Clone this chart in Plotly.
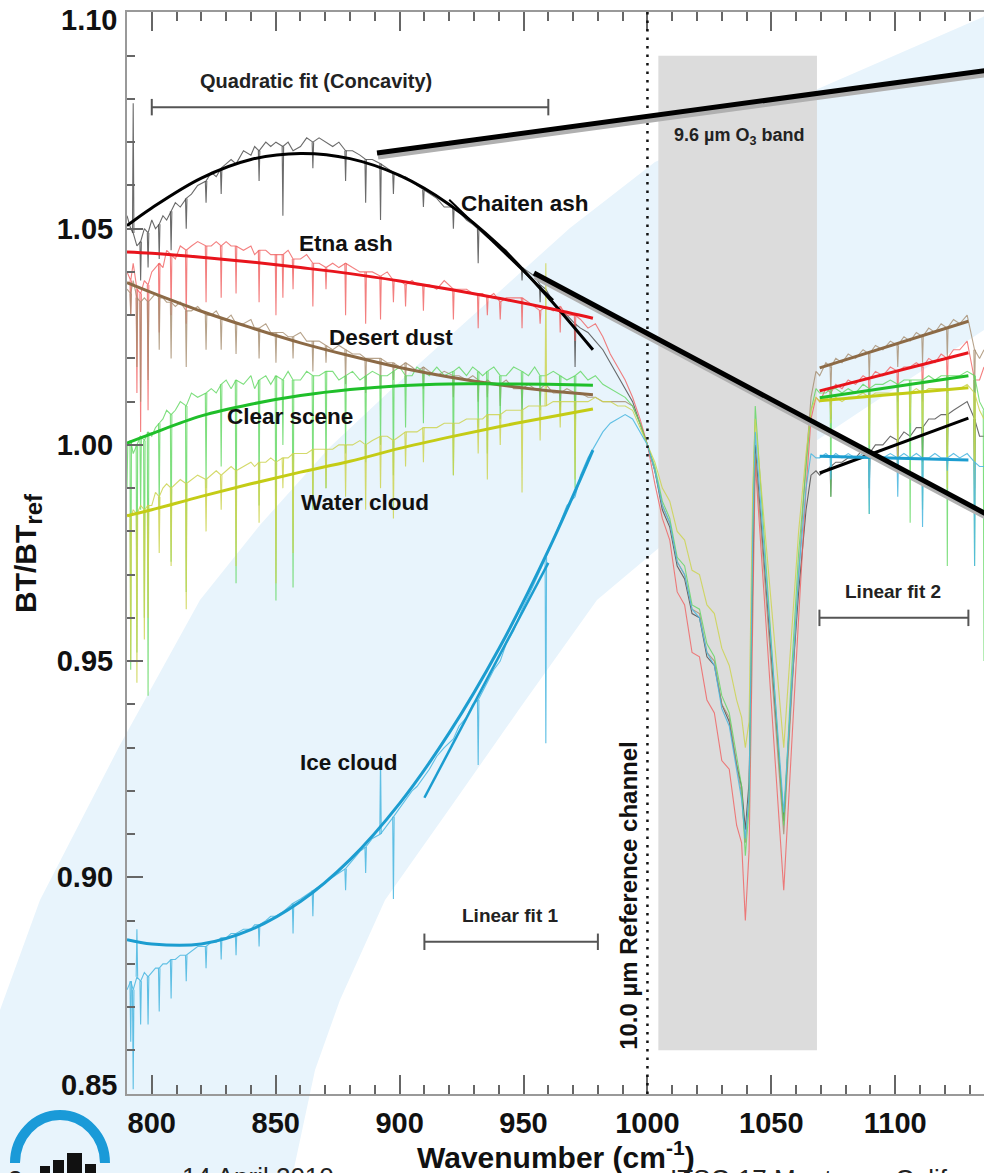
import plotly.graph_objects as go

# ---------------- data ----------------
WN_LEFT = [790.0, 791.5, 792.5, 794.0, 795.5, 797.0, 798.5, 800.0, 801.5, 803.0,
           804.5, 806.0, 807.8, 809.5, 811.5, 813.9, 816.0, 818.5, 821.9, 824.0,
           826.0, 828.0, 830.0, 832.0, 834.0, 837.0, 840.0, 841.5, 843.3, 846.0,
           848.0, 850.1, 852.9, 855.0, 857.0, 860.0, 862.5, 865.0, 867.5, 870.3,
           873.0, 875.5, 878.2, 881.0, 884.0, 886.3, 889.0, 892.3, 895.0, 897.5,
           900.0, 902.4, 905.0, 907.0, 909.6, 912.0, 915.0, 918.0, 921.7, 924.0,
           927.0, 929.5, 931.7, 933.5, 935.4, 938.0, 940.6, 943.0, 946.0, 949.4,
           952.0, 954.5, 956.7, 959.0, 962.0, 964.8, 967.5, 970.8, 973.0, 976.0,
           979.0, 982.0, 985.0, 988.0, 991.0, 994.0, 997.0, 1000.0]
WN_O3 = [1003, 1006, 1009, 1012, 1015, 1018, 1021, 1024, 1027, 1030, 1033, 1036,
         1038, 1039.5, 1041, 1042.5, 1043.5, 1055, 1058, 1061, 1064, 1066, 1068]
WN_RIGHT = [1069.5, 1072, 1074, 1076, 1078.5, 1081, 1084, 1087, 1089.5, 1092, 1095,
            1098, 1101, 1103.5, 1106, 1108.5, 1111, 1113.5, 1116, 1118.5, 1121,
            1123.5, 1126, 1129, 1132, 1134, 1135.8]

# spectra: continuum level at each wavenumber
CHAITEN_LEFT = [1.053, 1.050, 1.049, 1.046, 1.047, 1.050, 1.049, 1.052, 1.050, 1.051,
                1.053, 1.052, 1.054, 1.056, 1.055, 1.057, 1.058, 1.060, 1.061, 1.063,
                1.062, 1.064, 1.065, 1.066, 1.065, 1.068, 1.067, 1.069, 1.068, 1.070,
                1.069, 1.070, 1.069, 1.070, 1.068, 1.069, 1.071, 1.070, 1.071, 1.070,
                1.069, 1.070, 1.068, 1.068, 1.067, 1.066, 1.066, 1.065, 1.064, 1.063,
                1.062, 1.062, 1.061, 1.060, 1.059, 1.058, 1.057, 1.055, 1.055, 1.054,
                1.052, 1.051, 1.050, 1.049, 1.048, 1.047, 1.046, 1.045, 1.043, 1.041,
                1.040, 1.039, 1.037, 1.036, 1.033, 1.031, 1.030, 1.028, 1.027, 1.026,
                1.024, 1.022, 1.019, 1.016, 1.013, 1.010, 1.005, 1.000]
ETNA_LEFT = [1.040, 1.038, 1.042, 1.036, 1.035, 1.038, 1.037, 1.040, 1.041, 1.042,
             1.041, 1.045, 1.044, 1.043, 1.046, 1.045, 1.046, 1.047, 1.046, 1.046,
             1.047, 1.046, 1.047, 1.046, 1.046, 1.045, 1.046, 1.044, 1.045, 1.045,
             1.044, 1.044, 1.044, 1.045, 1.043, 1.043, 1.044, 1.042, 1.042, 1.041,
             1.042, 1.041, 1.042, 1.041, 1.040, 1.040, 1.040, 1.039, 1.040, 1.038,
             1.038, 1.037, 1.038, 1.037, 1.037, 1.037, 1.036, 1.038, 1.036, 1.036,
             1.036, 1.035, 1.035, 1.035, 1.034, 1.035, 1.033, 1.034, 1.034, 1.034,
             1.033, 1.032, 1.031, 1.032, 1.031, 1.032, 1.030, 1.030, 1.029, 1.027,
             1.028, 1.025, 1.021, 1.018, 1.015, 1.011, 1.006, 1.000]
DUST_LEFT = [1.036, 1.035, 1.038, 1.034, 1.033, 1.034, 1.033, 1.034, 1.035, 1.034,
             1.034, 1.033, 1.033, 1.032, 1.033, 1.031, 1.031, 1.032, 1.030, 1.030,
             1.031, 1.029, 1.029, 1.030, 1.028, 1.028, 1.029, 1.027, 1.027, 1.028,
             1.026, 1.026, 1.026, 1.025, 1.025, 1.026, 1.024, 1.024, 1.024, 1.023,
             1.022, 1.023, 1.022, 1.021, 1.021, 1.020, 1.020, 1.020, 1.019, 1.019,
             1.018, 1.019, 1.018, 1.017, 1.018, 1.017, 1.016, 1.017, 1.016, 1.016,
             1.015, 1.016, 1.015, 1.014, 1.015, 1.014, 1.014, 1.015, 1.013, 1.013,
             1.014, 1.013, 1.013, 1.014, 1.012, 1.012, 1.013, 1.012, 1.012, 1.011,
             1.011, 1.010, 1.010, 1.010, 1.010, 1.009, 1.005, 1.000]
CLEAR_LEFT = [1.000, 1.001, 0.998, 1.000, 1.002, 1.001, 1.003, 1.002, 1.004, 1.005,
              1.006, 1.008, 1.007, 1.008, 1.010, 1.009, 1.012, 1.011, 1.012, 1.013,
              1.012, 1.014, 1.015, 1.013, 1.015, 1.014, 1.016, 1.013, 1.015, 1.016,
              1.014, 1.016, 1.015, 1.017, 1.015, 1.015, 1.017, 1.016, 1.016, 1.017,
              1.017, 1.015, 1.016, 1.017, 1.015, 1.016, 1.017, 1.016, 1.016, 1.017,
              1.018, 1.016, 1.016, 1.018, 1.017, 1.016, 1.018, 1.016, 1.017, 1.018,
              1.016, 1.018, 1.017, 1.016, 1.017, 1.018, 1.016, 1.016, 1.018, 1.017,
              1.016, 1.018, 1.016, 1.016, 1.017, 1.016, 1.015, 1.016, 1.017, 1.015,
              1.016, 1.014, 1.013, 1.012, 1.011, 1.009, 1.005, 1.000]
WATER_LEFT = [0.984, 0.983, 0.985, 0.984, 0.986, 0.985, 0.986, 0.986, 0.989, 0.988,
              0.990, 0.991, 0.990, 0.991, 0.992, 0.991, 0.992, 0.993, 0.992, 0.993,
              0.994, 0.993, 0.994, 0.995, 0.994, 0.995, 0.996, 0.995, 0.996, 0.996,
              0.997, 0.996, 0.997, 0.997, 0.998, 0.998, 0.998, 0.999, 0.999, 0.999,
              0.999, 1.000, 1.000, 1.000, 1.001, 1.000, 1.001, 1.002, 1.002, 1.001,
              1.002, 1.003, 1.003, 1.003, 1.004, 1.004, 1.004, 1.005, 1.005, 1.005,
              1.006, 1.006, 1.006, 1.006, 1.007, 1.007, 1.007, 1.008, 1.008, 1.008,
              1.009, 1.009, 1.009, 1.009, 1.010, 1.010, 1.010, 1.010, 1.010, 1.010,
              1.011, 1.010, 1.010, 1.009, 1.009, 1.008, 1.004, 1.000]
ICE_LEFT = [0.874, 0.876, 0.874, 0.877, 0.876, 0.878, 0.877, 0.878, 0.879, 0.879,
            0.880, 0.880, 0.881, 0.881, 0.882, 0.882, 0.883, 0.884, 0.884, 0.885,
            0.885, 0.886, 0.886, 0.887, 0.887, 0.888, 0.888, 0.889, 0.889, 0.890,
            0.891, 0.891, 0.892, 0.893, 0.894, 0.895, 0.896, 0.897, 0.898, 0.899,
            0.900, 0.901, 0.902, 0.904, 0.906, 0.907, 0.909, 0.910, 0.912, 0.914,
            0.916, 0.918, 0.920, 0.921, 0.923, 0.925, 0.928, 0.930, 0.932, 0.935,
            0.937, 0.940, 0.941, 0.943, 0.945, 0.948, 0.950, 0.954, 0.957, 0.962,
            0.965, 0.968, 0.971, 0.974, 0.978, 0.982, 0.986, 0.988, 0.993, 0.997,
            1.000, 1.003, 1.005, 1.006, 1.007, 1.006, 1.003, 1.000]

CHAITEN_O3 = [0.994, 0.985, 0.981, 0.972, 0.969, 0.961, 0.960, 0.951, 0.949, 0.940, 0.936, 0.926,
              0.921, 0.911, 0.922, 0.975, 1.000, 0.913, 0.942, 0.966, 0.985, 0.993, 0.994]
ETNA_O3 = [0.991, 0.983, 0.978, 0.966, 0.963, 0.952, 0.951, 0.941, 0.938, 0.927, 0.925, 0.912,
           0.908, 0.890, 0.906, 0.960, 0.996, 0.897, 0.930, 0.960, 0.990, 1.006, 1.011]
DUST_O3 = [0.994, 0.986, 0.982, 0.973, 0.970, 0.962, 0.961, 0.952, 0.950, 0.940, 0.937, 0.926,
           0.919, 0.908, 0.919, 0.975, 0.998, 0.910, 0.940, 0.970, 0.996, 1.011, 1.017]
CLEAR_O3 = [0.995, 0.987, 0.983, 0.974, 0.972, 0.963, 0.962, 0.954, 0.951, 0.942, 0.938, 0.928,
            0.921, 0.905, 0.916, 0.985, 1.009, 0.912, 0.946, 0.975, 0.996, 1.008, 1.013]
WATER_O3 = [0.996, 0.990, 0.987, 0.980, 0.978, 0.971, 0.970, 0.963, 0.961, 0.953, 0.949, 0.941,
            0.937, 0.930, 0.936, 0.990, 1.006, 0.930, 0.956, 0.980, 0.998, 1.008, 1.011]
ICE_O3 = [0.994, 0.986, 0.982, 0.973, 0.970, 0.962, 0.960, 0.952, 0.949, 0.939, 0.935, 0.925,
          0.918, 0.909, 0.919, 0.980, 1.003, 0.915, 0.943, 0.970, 0.990, 0.998, 0.997]

CHAITEN_RIGHT = [0.993, 0.994, 0.995, 0.996, 0.996, 0.997, 0.997, 0.999, 0.998, 1.000, 1.000, 1.002,
                 1.001, 1.003, 1.002, 1.004, 1.004, 1.006, 1.006, 1.007, 1.007, 1.008, 1.009, 1.010,
                 1.006, 1.002, 1.002]
ETNA_RIGHT = [1.010, 1.013, 1.012, 1.014, 1.013, 1.015, 1.014, 1.016, 1.015, 1.017, 1.016, 1.018,
              1.017, 1.018, 1.018, 1.019, 1.018, 1.020, 1.019, 1.021, 1.020, 1.022, 1.022, 1.024,
              1.015, 1.015, 1.018]
DUST_RIGHT = [1.016, 1.019, 1.018, 1.020, 1.019, 1.021, 1.020, 1.022, 1.021, 1.023, 1.022, 1.024,
              1.023, 1.025, 1.024, 1.026, 1.025, 1.027, 1.026, 1.028, 1.027, 1.029, 1.028, 1.030,
              1.022, 1.020, 1.022]
CLEAR_RIGHT = [1.012, 1.012, 1.013, 1.013, 1.012, 1.013, 1.012, 1.014, 1.013, 1.014, 1.014, 1.015,
               1.014, 1.015, 1.015, 1.015, 1.015, 1.016, 1.015, 1.016, 1.016, 1.016, 1.016, 1.017,
               1.016, 1.010, 1.008]
WATER_RIGHT = [1.010, 1.011, 1.010, 1.011, 1.010, 1.011, 1.011, 1.012, 1.011, 1.012, 1.012, 1.012,
               1.012, 1.012, 1.012, 1.013, 1.012, 1.013, 1.013, 1.013, 1.013, 1.013, 1.013, 1.014,
               1.012, 1.008, 1.006]
ICE_RIGHT = [0.997, 0.998, 0.997, 0.998, 0.997, 0.998, 0.997, 0.998, 0.997, 0.998, 0.997, 0.998,
             0.997, 0.998, 0.997, 0.998, 0.997, 0.997, 0.998, 0.997, 0.997, 0.998, 0.997, 0.998,
             0.996, 0.995, 0.995]

# narrow absorption lines / spikes: (wavenumber, extreme value)
CHAITEN_LINES = [(792.5, 1.079), (795.5, 1.038), (798.5, 1.041), (803.0, 1.043), (807.8, 1.045),
                 (813.9, 1.050), (821.9, 1.056), (828.0, 1.058), (843.3, 1.061), (852.9, 1.053),
                 (865.0, 1.064), (878.2, 1.061), (886.3, 1.056), (892.3, 1.052), (897.5, 1.058),
                 (909.6, 1.055), (921.7, 1.050), (931.7, 1.042), (949.4, 1.038), (956.7, 1.033),
                 (970.8, 1.018), (1074, 0.988), (1089.5, 0.990), (1101, 0.994), (1111, 0.996),
                 (1121, 0.998), (1132, 0.990)]
ETNA_LINES = [(791.5, 1.030), (794.0, 1.012), (795.5, 1.003), (798.5, 1.008), (803.0, 1.026),
              (807.8, 1.030), (813.9, 1.028), (821.9, 1.033), (828.0, 1.034), (834.0, 1.035),
              (843.3, 1.033), (850.1, 1.030), (852.9, 1.034), (857.0, 1.036), (865.0, 1.032),
              (870.3, 1.036), (878.2, 1.030), (886.3, 1.028), (892.3, 1.029), (897.5, 1.033),
              (902.4, 1.032), (909.6, 1.031), (921.7, 1.029), (931.7, 1.027), (935.4, 1.030),
              (940.6, 1.029), (949.4, 1.027), (956.7, 1.028), (964.8, 1.026), (970.8, 1.024),
              (1074, 1.006), (1089.5, 1.008), (1101, 1.010), (1111, 1.010), (1121, 1.012),
              (1132, 1.005)]
DUST_LINES = [(791.5, 1.030), (794.0, 1.018), (795.5, 1.010), (798.5, 1.015), (803.0, 1.022),
              (807.8, 1.020), (813.9, 1.018), (821.9, 1.022), (828.0, 1.022), (834.0, 1.021),
              (843.3, 1.020), (850.1, 1.019), (857.0, 1.020), (865.0, 1.017), (870.3, 1.019),
              (878.2, 1.014), (886.3, 1.012), (892.3, 1.013), (897.5, 1.015), (902.4, 1.014),
              (909.6, 1.013), (921.7, 1.011), (931.7, 1.010), (935.4, 1.011), (940.6, 1.009),
              (949.4, 1.008), (956.7, 1.009), (964.8, 1.008), (970.8, 1.006),
              (1074, 1.012), (1089.5, 1.015), (1101, 1.018), (1111, 1.019), (1121, 1.020),
              (1132, 1.012)]
CLEAR_LINES = [(790.0, 0.990), (791.5, 0.948), (794.0, 0.952), (795.5, 0.985), (797.0, 0.960),
               (798.5, 0.942), (803.0, 0.985), (807.8, 0.973), (813.9, 0.966), (821.9, 0.990),
               (828.0, 0.995), (834.0, 0.968), (843.3, 0.986), (850.1, 0.964), (852.9, 1.000),
               (857.0, 0.967), (865.0, 0.985), (870.3, 0.990), (878.2, 0.998), (886.3, 0.996),
               (892.3, 1.000), (897.5, 0.993), (902.4, 1.004), (909.6, 1.005), (921.7, 0.993),
               (931.7, 1.004), (935.4, 0.998), (940.6, 1.006), (949.4, 1.005), (956.7, 1.008),
               (964.8, 1.007), (970.8, 0.990), (1074, 0.988), (1089.5, 0.984), (1101, 1.000),
               (1106, 0.982), (1111, 0.985), (1121, 0.972), (1132, 0.972), (1135.8, 0.950)]
WATER_LINES = [(791.5, 0.950), (794.0, 0.945), (797.0, 0.955), (798.5, 0.960), (803.0, 0.975),
               (807.8, 0.972), (813.9, 0.962), (821.9, 0.980), (828.0, 0.985), (834.0, 0.972),
               (843.3, 0.982), (850.1, 0.968), (852.9, 0.990), (857.0, 0.975), (865.0, 0.986),
               (870.3, 0.990), (878.2, 0.988), (886.3, 0.985), (892.3, 0.990), (897.5, 0.983),
               (902.4, 0.995), (909.6, 0.996), (921.7, 0.993), (931.7, 0.998), (935.4, 0.992),
               (940.6, 1.000), (949.4, 0.989), (956.7, 1.001), (959.0, 1.042), (964.8, 1.004),
               (970.8, 0.992), (1074, 1.005), (1089.5, 1.000), (1101, 0.995), (1106, 1.005),
               (1111, 1.002), (1121, 0.990), (1132, 0.985)]
ICE_LINES = [(791.5, 0.862), (792.5, 0.851), (794.0, 0.888), (795.5, 0.866), (798.5, 0.866),
             (803.0, 0.869), (807.8, 0.872), (813.9, 0.876), (821.9, 0.879), (828.0, 0.881),
             (834.0, 0.882), (843.3, 0.884), (857.0, 0.887), (865.0, 0.891), (878.2, 0.897),
             (886.3, 0.901), (892.3, 0.928), (897.5, 0.895), (931.7, 0.926), (959.0, 0.931),
             (1074, 0.992), (1089.5, 0.984), (1101, 0.988), (1111, 0.981), (1121, 0.994),
             (1132, 0.972)]

# quadratic fits
FIT_X = [790, 800, 820, 840, 860, 880, 900, 920, 940, 960, 978]
CHAITEN_FIT = [1.0507, 1.0548, 1.0617, 1.0660, 1.0674, 1.0662, 1.0623, 1.0556, 1.0462, 1.0341, 1.0220]
ETNA_FIT = [1.0446, 1.0443, 1.0434, 1.0423, 1.0410, 1.0396, 1.0379, 1.0360, 1.0339, 1.0316, 1.0293]
DUST_FIT = [1.0375, 1.0352, 1.0309, 1.0271, 1.0236, 1.0206, 1.0179, 1.0157, 1.0139, 1.0125, 1.0116]
CLEAR_FIT = [1.0004, 1.0026, 1.0067, 1.0094, 1.0114, 1.0128, 1.0137, 1.0141, 1.0141, 1.0140, 1.0138]
WATER_FIT = [0.9836, 0.9850, 0.9881, 0.9910, 0.9937, 0.9962, 0.9992, 1.0018, 1.0042, 1.0064, 1.0083]
ICE_FIT = [0.8856, 0.8846, 0.8846, 0.8879, 0.8944, 0.9041, 0.9171, 0.9334, 0.9528, 0.9756, 0.9988]

# linear fit 1 (910-980 window)
ICE_LIN1_X = [910, 960]
ICE_LIN1 = [0.9184, 0.9727]
CHAITEN_LIN1_X = [920, 962]
CHAITEN_LIN1 = [1.0567, 1.0335]

# linear fit 2 (1069-1130 window)
LIN2_X = [1069.5, 1129.5]
CHAITEN_LIN2 = [0.9935, 1.0062]
ETNA_LIN2 = [1.0125, 1.0213]
DUST_LIN2 = [1.0178, 1.0286]
CLEAR_LIN2 = [1.0109, 1.0160]
WATER_LIN2 = [1.0102, 1.0132]
ICE_LIN2 = [0.9974, 0.9965]

X_TICKS = [800, 850, 900, 950, 1000, 1050, 1100]
Y_TICKS = [0.85, 0.90, 0.95, 1.00, 1.05, 1.10]
Y_TICK_TEXT = ["0.85", "0.90", "0.95", "1.00", "1.05", "1.10"]

O3_BAND = [1004.4, 1068.4, 0.860, 1.090]
REF_CHANNEL = 1000
BRACKETS = [  # (x0, x1, y, label, label_x, label_y)
    (800, 960, 1.0781, "Quadratic fit (Concavity)", 866.3, 1.0811),
    (910, 980, 0.8851, "Linear fit 1", 944.7, 0.8884),
    (1069.4, 1129.5, 0.9600, "Linear fit 2", 1099.2, 0.9632),
]
LABELS = [  # (text, x, y)
    ("Chaiten ash", 950.7, 1.0558),
    ("Etna ash", 878.5, 1.0465),
    ("Desert dust", 896.7, 1.0249),
    ("Clear scene", 855.9, 1.0066),
    ("Water cloud", 886.1, 0.9867),
    ("Ice cloud", 879.6, 0.9266),
]

# ---------------- styling ----------------
FONT = "Liberation Sans, Arial, Helvetica, sans-serif"
SERIES = [
    ("Chaiten ash", CHAITEN_LEFT, CHAITEN_O3, CHAITEN_RIGHT, CHAITEN_LINES, CHAITEN_FIT, CHAITEN_LIN2,
     "rgba(70,70,70,0.8)", "#000000"),
    ("Etna ash", ETNA_LEFT, ETNA_O3, ETNA_RIGHT, ETNA_LINES, ETNA_FIT, ETNA_LIN2,
     "rgba(240,95,95,0.8)", "#e8141c"),
    ("Desert dust", DUST_LEFT, DUST_O3, DUST_RIGHT, DUST_LINES, DUST_FIT, DUST_LIN2,
     "rgba(165,140,110,0.8)", "#8c6a46"),
    ("Clear scene", CLEAR_LEFT, CLEAR_O3, CLEAR_RIGHT, CLEAR_LINES, CLEAR_FIT, CLEAR_LIN2,
     "rgba(95,215,95,0.8)", "#1fbf2a"),
    ("Water cloud", WATER_LEFT, WATER_O3, WATER_RIGHT, WATER_LINES, WATER_FIT, WATER_LIN2,
     "rgba(205,212,80,0.85)", "#c4cc16"),
    ("Ice cloud", ICE_LEFT, ICE_O3, ICE_RIGHT, ICE_LINES, ICE_FIT, ICE_LIN2,
     "rgba(80,185,225,0.9)", "#1c9dd0"),
]

L_M, R_M, T_M, B_M = 127, 0, 12, 79
W, H = 984, 1173
PW, PH = W - L_M - R_M, H - T_M - B_M


def pp(px, py):
    """figure pixel -> paper fraction"""
    return (px - L_M) / PW, (H - B_M - py) / PH


def path_from(points, close=True):
    s = ""
    for i, (a, b) in enumerate(points):
        x, y = pp(a, b)
        s += ("M" if i == 0 else "L") + f"{x:.4f},{y:.4f} "
    return s + ("Z" if close else "")


fig = go.Figure()

wn_all = WN_LEFT + WN_O3 + WN_RIGHT
for name, left, o3, right, lines, fit, lin2, rawc, fitc in SERIES:
    y_all = left + o3 + right
    fig.add_trace(go.Scatter(x=wn_all, y=y_all, mode="lines", line=dict(color=rawc, width=1.1),
                             name=name + " spectrum", hoverinfo="skip"))
    level = dict(zip(wn_all, y_all))
    lx, ly = [], []
    for wn, v in lines:
        lx += [wn - 0.3, wn, wn + 0.3, None]
        ly += [level[wn], v, level[wn], None]
    fig.add_trace(go.Scatter(x=lx, y=ly, mode="lines", line=dict(color=rawc, width=1.1),
                             name=name + " lines", hoverinfo="skip"))
for name, left, o3, right, lines, fit, lin2, rawc, fitc in SERIES:
    fig.add_trace(go.Scatter(x=FIT_X, y=fit, mode="lines", line=dict(color=fitc, width=3, shape="spline"),
                             name=name + " quadratic fit"))
    fig.add_trace(go.Scatter(x=LIN2_X, y=lin2, mode="lines", line=dict(color=fitc, width=3),
                             name=name + " linear fit 2"))
fig.add_trace(go.Scatter(x=ICE_LIN1_X, y=ICE_LIN1, mode="lines", line=dict(color="#1c9dd0", width=2.5),
                         name="Ice cloud linear fit 1"))
fig.add_trace(go.Scatter(x=CHAITEN_LIN1_X, y=CHAITEN_LIN1, mode="lines", line=dict(color="#000", width=2),
                         name="Chaiten ash linear fit 1"))

shapes = []
# slide background band
outer = [(1010, -10), (983, 17), (820, 88), (655, 162), (570, 228), (490, 300), (410, 372),
         (330, 447), (260, 525), (200, 600), (120, 745), (40, 900), (0, 1010), (-10, 1040)]
inner = [(-10, 1200), (288, 1200), (293, 1173), (315, 1070), (340, 1000), (385, 900), (450, 808),
         (520, 708), (597, 600), (660, 547), (760, 478), (870, 405), (984, 330), (1010, 313)]
shapes.append(dict(type="path", xref="paper", yref="paper", path=path_from(outer + inner),
                   fillcolor="#e8f4fc", line=dict(width=0), layer="below"))
# ozone band
shapes.append(dict(type="rect", xref="x", yref="y", x0=O3_BAND[0], x1=O3_BAND[1], y0=O3_BAND[2],
                   y1=O3_BAND[3], fillcolor="#dcdcdc", line=dict(width=0), layer="below"))
# reference channel
shapes.append(dict(type="line", xref="x", yref="paper", x0=REF_CHANNEL, x1=REF_CHANNEL, y0=0, y1=1,
                   line=dict(color="#111", width=2.5, dash="2.5px,6px"), layer="above"))
# fit-window brackets
for x0, x1, y, _, _, _ in BRACKETS:
    shapes.append(dict(type="line", xref="x", yref="y", x0=x0, x1=x1, y0=y, y1=y,
                       line=dict(color="#555", width=2)))
    for xc in (x0, x1):
        shapes.append(dict(type="line", xref="x", yref="y", x0=xc, x1=xc, y0=y - 0.0019, y1=y + 0.0019,
                           line=dict(color="#555", width=2)))
# callout lines from the slide (shadow + line)
for (a, b) in [((377, 153), (990, 70)), ((534, 273), (990, 516))]:
    xs, ys = pp(a[0] + 1, a[1] + 4)
    xe, ye = pp(b[0] + 1, b[1] + 4)
    shapes.append(dict(type="line", xref="paper", yref="paper", x0=xs, y0=ys, x1=xe, y1=ye,
                       line=dict(color="#b0b0b0", width=5), layer="above"))
    xs, ys = pp(*a)
    xe, ye = pp(*b)
    shapes.append(dict(type="line", xref="paper", yref="paper", x0=xs, y0=ys, x1=xe, y1=ye,
                       line=dict(color="#000", width=5), layer="above"))
# footer logo arc
k = 0.5523
cx, cy, rx, ry = 60, 1163, 45, 48
pts = [(cx - rx, cy), (cx - rx, cy - k * ry), (cx - k * rx, cy - ry), (cx, cy - ry),
       (cx + k * rx, cy - ry), (cx + rx, cy - k * ry), (cx + rx, cy)]
pq = [pp(*p) for p in pts]
arc = (f"M{pq[0][0]:.4f},{pq[0][1]:.4f} C{pq[1][0]:.4f},{pq[1][1]:.4f} {pq[2][0]:.4f},{pq[2][1]:.4f} "
       f"{pq[3][0]:.4f},{pq[3][1]:.4f} C{pq[4][0]:.4f},{pq[4][1]:.4f} {pq[5][0]:.4f},{pq[5][1]:.4f} "
       f"{pq[6][0]:.4f},{pq[6][1]:.4f}")
shapes.append(dict(type="path", xref="paper", yref="paper", path=arc,
                   line=dict(color="#1a9ad8", width=10)))
for (x0, y0, x1, y1) in [(40, 1166, 50, 1180), (53, 1160, 64, 1180), (67, 1153, 82, 1180), (85, 1164, 96, 1180)]:
    a0, b0 = pp(x0, y0)
    a1, b1 = pp(x1, y1)
    shapes.append(dict(type="rect", xref="paper", yref="paper", x0=a0, x1=a1, y0=b1, y1=b0,
                       fillcolor="#111", line=dict(width=0)))

annotations = []
for x0, x1, y, text, lx, ly in BRACKETS:
    annotations.append(dict(x=lx, y=ly, xref="x", yref="y", text=f"<b>{text}</b>",
                            showarrow=False, xanchor="center", yanchor="bottom",
                            font=dict(family=FONT, size=20 if "Quadratic" in text else 19, color="#222")))
for text, x, y in LABELS:
    annotations.append(dict(x=x, y=y, xref="x", yref="y", text=f"<b>{text}</b>", showarrow=False,
                            xanchor="center", yanchor="middle",
                            font=dict(family=FONT, size=22.5, color="#111")))
annotations.append(dict(x=1037, y=1.0712, xref="x", yref="y", text="<b>9.6 µm O<sub>3</sub> band</b>",
                        showarrow=False, xanchor="center", yanchor="middle",
                        font=dict(family=FONT, size=18, color="#222")))
annotations.append(dict(x=992.3, y=0.8958, xref="x", yref="y", text="<b>10.0 µm Reference channel</b>",
                        showarrow=False, textangle=-90, xanchor="center", yanchor="middle",
                        font=dict(family=FONT, size=24, color="#111")))
# end tick labels of the y axis sit a little inside the frame (as in the original)
axis_font = dict(family=FONT, size=29, color="#111", weight="bold")
for lab, py in [(Y_TICK_TEXT[-1], 20), (Y_TICK_TEXT[0], 1085)]:
    xt, yt = pp(119, py)
    annotations.append(dict(x=xt, y=yt, xref="paper", yref="paper", text=f"<b>{lab}</b>",
                            showarrow=False, xanchor="right", yanchor="middle",
                            font=dict(family=FONT, size=29, color="#111")))
y_tick_shown = [""] + Y_TICK_TEXT[1:-1] + [""]
# axis titles
xt, yt = pp(556, 1155)
annotations.append(dict(x=xt, y=yt, xref="paper", yref="paper", text="<b>Wavenumber (cm<sup>-1</sup>)</b>",
                        showarrow=False, xanchor="center", yanchor="middle",
                        font=dict(family=FONT, size=30, color="#111")))
xt, yt = pp(28, 553)
annotations.append(dict(x=xt, y=yt, xref="paper", yref="paper",
                        text="<b>BT/BT<sub><span style='font-size:24px'>ref</span></sub></b>",
                        showarrow=False, textangle=-90, xanchor="center", yanchor="middle",
                        font=dict(family=FONT, size=30, color="#111")))
# footer (cut by the bottom of the picture)
for text, px, py in [("2", 6, 1163), ("14 April 2010", 180, 1160), ("ITSC-17 Monterey, California", 668, 1162)]:
    xt, yt = pp(px, py)
    annotations.append(dict(x=xt, y=yt, xref="paper", yref="paper", text=text, showarrow=False,
                            xanchor="left", yanchor="top", font=dict(family=FONT, size=26, color="#222")))

fig.update_layout(
    width=W, height=H, margin=dict(l=L_M, r=R_M, t=T_M, b=B_M, autoexpand=False),
    paper_bgcolor="white", plot_bgcolor="rgba(0,0,0,0)", showlegend=False,
    shapes=shapes, annotations=annotations,
    xaxis=dict(range=[790, 1135.8], tickvals=X_TICKS, ticktext=[str(v) for v in X_TICKS],
               ticks="inside", ticklen=19, tickwidth=1.5, tickcolor="#666",
               showline=True, linecolor="#999", linewidth=2, mirror="ticks",
               minor=dict(dtick=10, ticks="inside", ticklen=9, tickwidth=1.5, tickcolor="#666"),
               showgrid=False, zeroline=False, tickfont=axis_font, ticklabelstandoff=2),
    yaxis=dict(range=[0.8499, 1.1001], tickvals=Y_TICKS, ticktext=y_tick_shown,
               ticks="inside", ticklen=16, tickwidth=1.5, tickcolor="#666",
               showline=True, linecolor="#999", linewidth=2,
               minor=dict(dtick=0.01, ticks="inside", ticklen=8, tickwidth=1.5, tickcolor="#666"),
               showgrid=False, zeroline=False, tickfont=axis_font, ticklabelstandoff=6),
    yaxis2=dict(range=[0.8499, 1.1001], overlaying="y", side="right", tickvals=Y_TICKS,
                showticklabels=False, ticks="inside", ticklen=9, tickwidth=1.5, tickcolor="#666",
                minor=dict(dtick=0.01, ticks="inside", ticklen=3, tickwidth=1.5, tickcolor="#666"),
                showline=False, showgrid=False, zeroline=False),
)

fig.write_html("out.html", config={"displayModeBar": False},
               post_script="document.body.style.margin='0px';document.body.style.overflow='hidden';")
